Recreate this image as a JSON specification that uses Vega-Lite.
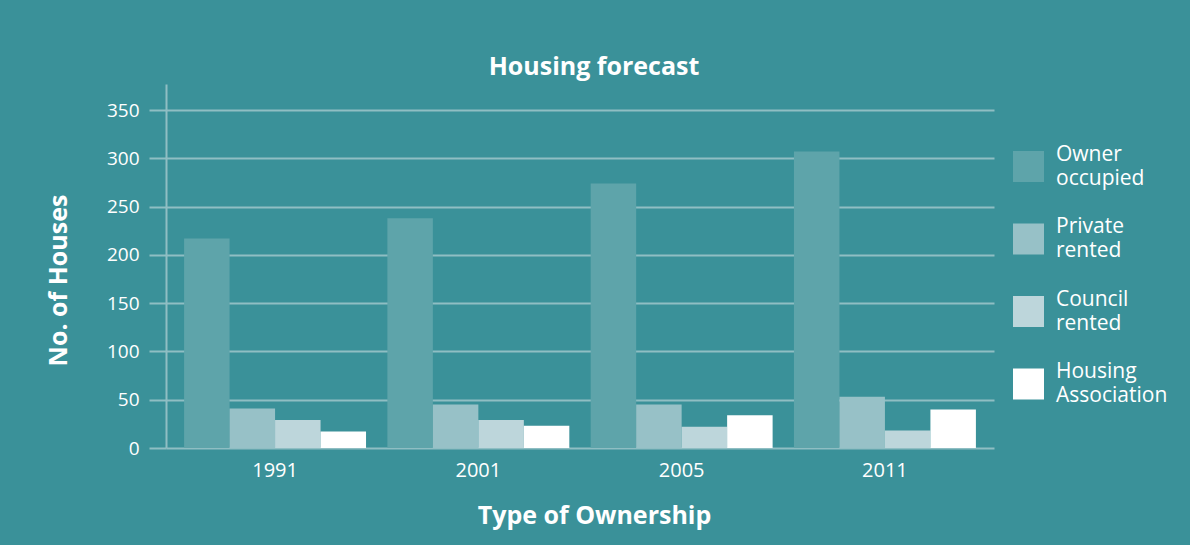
{
  "$schema": "https://vega.github.io/schema/vega-lite/v6.json",
  "autosize": "none",
  "width": 828,
  "height": 364,
  "padding": {"left": 166, "top": 84, "right": 196, "bottom": 97},
  "background": "#3A9199",
  "title": {
    "text": "Housing forecast",
    "anchor": "middle",
    "dx": 14,
    "offset": -16,
    "baseline": "alphabetic",
    "font": "Open Sans",
    "fontSize": 25,
    "fontWeight": "bold",
    "color": "#FFFFFF"
  },
  "data": {
    "values": [
      {"year": "1991", "type": "Owner occupied", "houses": 217},
      {"year": "1991", "type": "Private rented", "houses": 41},
      {"year": "1991", "type": "Council rented", "houses": 29},
      {"year": "1991", "type": "Housing Association", "houses": 17},
      {"year": "2001", "type": "Owner occupied", "houses": 238},
      {"year": "2001", "type": "Private rented", "houses": 45},
      {"year": "2001", "type": "Council rented", "houses": 29},
      {"year": "2001", "type": "Housing Association", "houses": 23},
      {"year": "2005", "type": "Owner occupied", "houses": 274},
      {"year": "2005", "type": "Private rented", "houses": 45},
      {"year": "2005", "type": "Council rented", "houses": 22},
      {"year": "2005", "type": "Housing Association", "houses": 34},
      {"year": "2011", "type": "Owner occupied", "houses": 307},
      {"year": "2011", "type": "Private rented", "houses": 53},
      {"year": "2011", "type": "Council rented", "houses": 18},
      {"year": "2011", "type": "Housing Association", "houses": 40}
    ]
  },
  "mark": {"type": "bar"},
  "encoding": {
    "x": {
      "field": "year",
      "type": "nominal",
      "scale": {"paddingInner": 0.105, "paddingOuter": 0.089},
      "axis": {
        "title": "Type of Ownership",
        "titleX": 428,
        "titleY": 67,
        "titleBaseline": "middle",
        "titleFontSize": 25,
        "titleFontWeight": "bold",
        "titleFont": "Open Sans",
        "titleColor": "#FFFFFF",
        "labelAngle": 0,
        "labelFont": "Open Sans",
        "labelFontSize": 20,
        "labelColor": "#FFFFFF",
        "labelPadding": 12,
        "domain": false,
        "ticks": false,
        "grid": false
      }
    },
    "xOffset": {
      "field": "type",
      "type": "nominal",
      "sort": ["Owner occupied", "Private rented", "Council rented", "Housing Association"],
      "scale": {"paddingInner": 0, "paddingOuter": 0}
    },
    "y": {
      "field": "houses",
      "type": "quantitative",
      "scale": {"domain": [0, 377], "nice": false},
      "axis": {
        "title": "No. of Houses",
        "titleX": -108,
        "titleY": 196,
        "titleBaseline": "middle",
        "titleFontSize": 25,
        "titleFontWeight": "bold",
        "titleFont": "Open Sans",
        "titleColor": "#FFFFFF",
        "values": [0, 50, 100, 150, 200, 250, 300, 350],
        "labelFont": "Open Sans",
        "labelFontSize": 19,
        "labelColor": "#FFFFFF",
        "labelPadding": 10,
        "tickSize": 17,
        "tickWidth": 2,
        "tickColor": "#8FBEC3",
        "domainColor": "#8FBEC3",
        "domainWidth": 2,
        "gridColor": "#8FBEC3",
        "gridWidth": 2,
        "grid": true
      }
    },
    "color": {
      "field": "type",
      "type": "nominal",
      "sort": ["Owner occupied", "Private rented", "Council rented", "Housing Association"],
      "scale": {
        "domain": ["Owner occupied", "Private rented", "Council rented", "Housing Association"],
        "range": ["#5EA4AA", "#97C1C7", "#BDD6DB", "#FFFFFF"]
      },
      "legend": {
        "title": null,
        "orient": "none",
        "legendX": 847,
        "legendY": 67,
        "symbolType": "square",
        "symbolSize": 961,
        "symbolStrokeWidth": 0,
        "symbolOpacity": 1,
        "labelExpr": "split(datum.label, ' ')",
        "labelFont": "Open Sans",
        "labelFontSize": 21,
        "labelColor": "#FFFFFF",
        "labelOffset": 12,
        "labelLimit": 200,
        "rowPadding": 26.5,
        "padding": 0,
        "encode": {"labels": {"update": {"lineHeight": {"value": 24}, "dy": {"value": -12}}}}
      }
    }
  },
  "config": {
    "view": {"stroke": null},
    "axis": {"labelFont": "Open Sans"}
  }
}
